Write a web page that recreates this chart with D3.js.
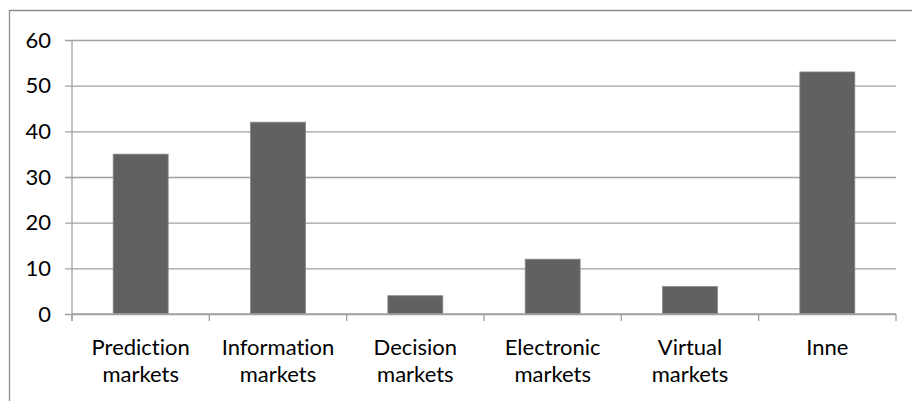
<!DOCTYPE html>
<html>
<head>
<meta charset="utf-8">
<script src="https://cdn.jsdelivr.net/npm/d3@7"></script>
<style>
  html, body { margin: 0; padding: 0; background: #fff; }
  svg { display: block; }
  text { font-variant-ligatures: none; }
</style>
</head>
<body>
<div id="chart"></div>
<script>
const categories = [["Prediction", "markets"], ["Information", "markets"], ["Decision", "markets"],
    ["Electronic", "markets"], ["Virtual", "markets"], ["Inne"]]
const values = [35, 42, 4, 12, 6, 53]
const yTicks = [0, 10, 20, 30, 40, 50, 60]

const width = 912
const height = 401
const margin = { top: 40, right: 16, bottom: 87, left: 72 }
const gridColor = "#a0a0a0"
const barColor = "#616161"
const font = "Lato, 'Open Sans', sans-serif"

const svg = d3.select('#chart')
    .append('svg')
    .attr('width', width)
    .attr('height', height)

// outer frame, only the left and top edges fall inside the picture
svg.append("path")
    .attr("d", `M9.5,${height}V10.5H${width}`)
    .attr("fill", "none")
    .attr("stroke", "#8c8c8c")
    .attr("stroke-width", 1.3)

const x = d3.scaleBand()
    .domain(d3.range(categories.length))
    .range([margin.left, width - margin.right])
    .paddingInner(0.6)
    .paddingOuter(0.3)

const xCat = d3.scaleBand()
    .domain(d3.range(categories.length))
    .range([margin.left, width - margin.right])

const y = d3.scaleLinear()
    .domain([0, 60])
    .range([height - margin.bottom, margin.top])

// gridlines with y ticks
const yAxis = svg.append("g")
    .attr("transform", `translate(${margin.left},0)`)
    .call(d3.axisLeft(y).tickValues(yTicks).tickSize(7).tickPadding(14))
yAxis.select(".domain").remove()
yAxis.selectAll(".tick line")
    .attr("stroke", gridColor)
    .attr("stroke-width", 1.3)
    .attr("x2", width - margin.right - margin.left)
    .attr("x1", -7)
yAxis.selectAll(".tick text")
    .attr("font-family", font)
    .attr("font-size", 22)
    .attr("fill", "#000")

// bars
svg.append("g")
    .selectAll("rect")
    .data(values)
    .join("rect")
    .attr("x", (d, i) => x(i))
    .attr("y", d => y(d))
    .attr("width", x.bandwidth())
    .attr("height", d => y(0) - y(d))
    .attr("fill", barColor)
    .attr("stroke", "#858585")
    .attr("stroke-width", 0.8)

// vertical axis line
svg.append("line")
    .attr("x1", margin.left).attr("x2", margin.left)
    .attr("y1", y(60)).attr("y2", y(0) + 7)
    .attr("stroke", gridColor)
    .attr("stroke-width", 1.3)

// category axis
const xAxis = svg.append("g")
    .attr("transform", `translate(0,${y(0)})`)
xAxis.append("line")
    .attr("x1", margin.left).attr("x2", width - margin.right)
    .attr("stroke", gridColor)
    .attr("stroke-width", 1.3)
xAxis.selectAll(".sep")
    .data(d3.range(categories.length + 1))
    .join("line")
    .attr("class", "sep")
    .attr("x1", i => i < categories.length ? xCat(i) : xCat.range()[1])
    .attr("x2", i => i < categories.length ? xCat(i) : xCat.range()[1])
    .attr("y2", 7)
    .attr("stroke", gridColor)
    .attr("stroke-width", 1.3)

const labels = xAxis.selectAll(".label")
    .data(categories)
    .join("text")
    .attr("class", "label")
    .attr("text-anchor", "middle")
    .attr("font-family", font)
    .attr("font-size", 22)
    .attr("fill", "#000")
    .attr("transform", (d, i) => `translate(${x(i) + x.bandwidth() / 2},0)`)

labels.selectAll("tspan")
    .data(d => d)
    .join("tspan")
    .attr("x", 0)
    .attr("y", (d, i) => 41 + i * 27)
    .text(d => d)
</script>
</body>
</html>
